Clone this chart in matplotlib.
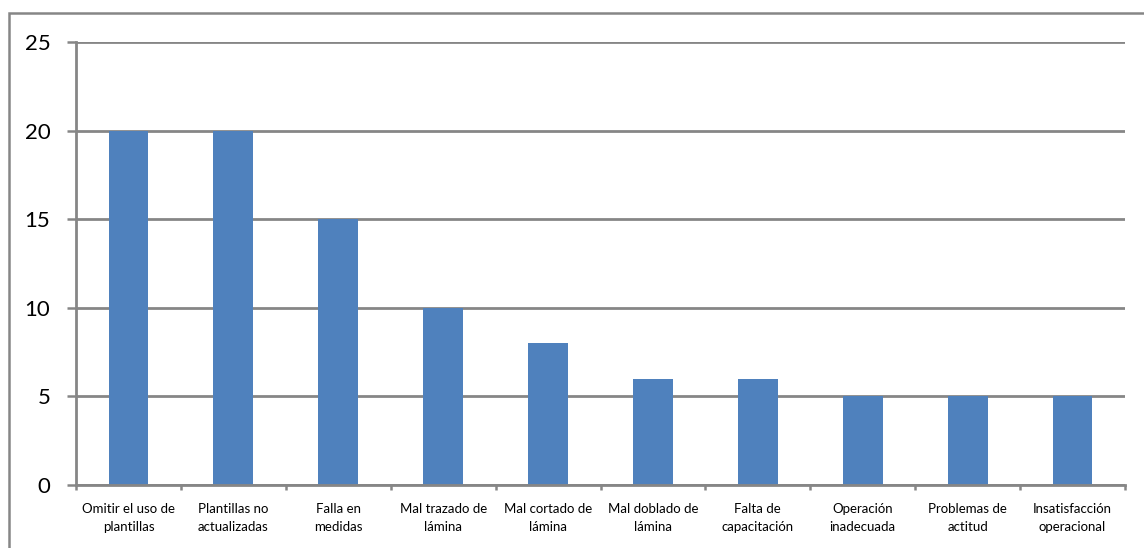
import matplotlib
matplotlib.use("Agg")
import matplotlib.pyplot as plt
from matplotlib.patches import Rectangle
import numpy as np

plt.rcParams['font.family'] = ['Lato', 'DejaVu Sans']

causas = ["Omitir el uso de\nplantillas", "Plantillas no\nactualizadas", "Falla en\nmedidas",
          "Mal trazado de\nlámina", "Mal cortado de\nlámina", "Mal doblado de\nlámina",
          "Falta de\ncapacitación", "Operación\ninadecuada", "Problemas de\nactitud",
          "Insatisfacción\noperacional"]
frecuencia = [20, 20, 15, 10, 8, 6, 6, 5, 5, 5]
yticks = [0, 5, 10, 15, 20, 25]

W, H = 1144, 548
GRIS = "#868686"
AZUL = "#4F81BD"

fig = plt.figure(figsize=(W / 100, H / 100), dpi=100)

# marco exterior del grafico
fig.patches.append(Rectangle((9 / W, -0.1), 1.2, 1 - 13 / H + 0.1, transform=fig.transFigure,
                             fill=False, edgecolor=GRIS, linewidth=1.8, zorder=0))

ax = fig.add_axes([76 / W, 1 - 485 / H, (1125 - 76) / W, (485 - 42) / H])
x = np.arange(len(causas))
ax.bar(x, frecuencia, width=0.38, color=AZUL, zorder=2)

ax.set_xlim(-0.5, len(causas) - 0.5)
ax.set_ylim(0, 25)
ax.set_yticks(yticks)
ax.set_yticklabels([str(v) for v in yticks], fontsize=16)
ax.tick_params(axis='y', length=6.5, width=1.8, color=GRIS, pad=12)

ax.set_xticks(x)
ax.set_xticklabels(causas, fontsize=9.5, linespacing=1.6)
ax.tick_params(axis='x', length=0, pad=13)
ax.set_xticks(np.arange(-0.5, len(causas)), minor=True)
ax.tick_params(axis='x', which='minor', length=3.5, width=1.8, color=GRIS)

ax.set_axisbelow(True)
ax.yaxis.grid(True, color=GRIS, linewidth=2.0)
for lado in ['top', 'right']:
    ax.spines[lado].set_visible(False)
for lado in ['left', 'bottom']:
    ax.spines[lado].set_color(GRIS)
    ax.spines[lado].set_linewidth(2.0)

fig.savefig("out.png", dpi=100)
